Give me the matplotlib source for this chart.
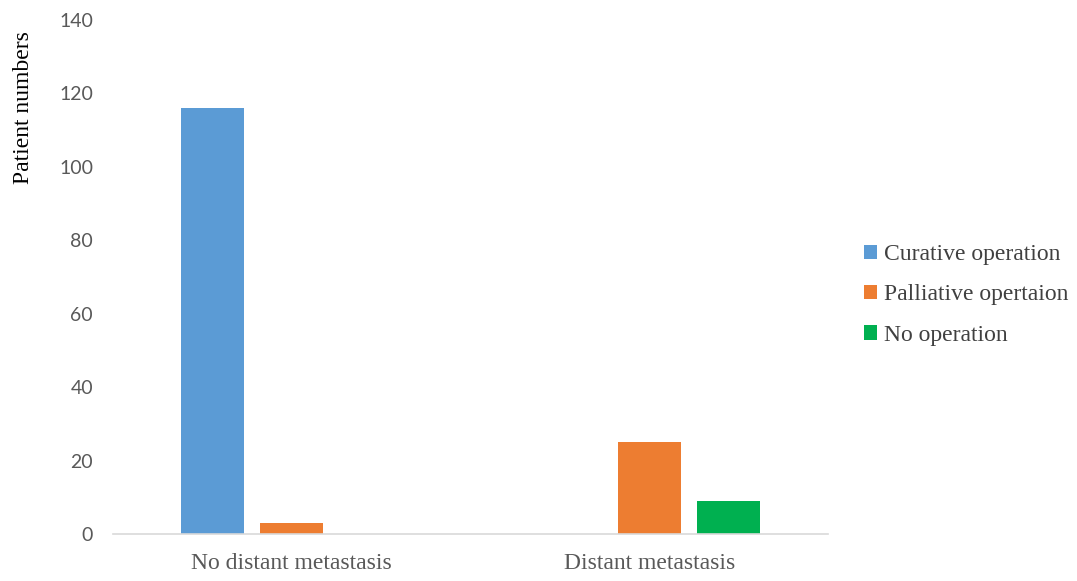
import matplotlib.pyplot as plt
import numpy as np

# donnees
groups = ["No distant metastasis", "Distant metastasis"]
series = ["Curative operation", "Palliative opertaion", "No operation"]
curative = [116, 0]
palliative = [3, 25]
no_operation = [0, 9]
colors = ["#5b9bd5", "#ed7d31", "#00b050"]

fig = plt.figure(figsize=(10.77, 5.81), dpi=100)
ax = fig.add_axes([0.1045, 0.0809, 0.6645, 0.8847])

x = np.arange(len(groups))
w = 0.176
step = 0.22
for i, (vals, lab) in enumerate(zip([curative, palliative, no_operation], series)):
    ax.bar(x + (i - 1) * step, vals, w, color=colors[i], label=lab)

ax.set_xlim(-0.5, 1.5)
ax.set_ylim(0, 140)
ax.set_yticks(range(0, 141, 20))
for s in ["top", "right", "left"]:
    ax.spines[s].set_visible(False)
ax.spines["bottom"].set_color("#d9d9d9")
ax.spines["bottom"].set_linewidth(1.2)
ax.tick_params(axis="both", length=0, colors="#595959")
ax.tick_params(axis="y", pad=14)
ax.tick_params(axis="x", pad=14)
ax.set_xticks(x)
ax.set_xticklabels(groups, family="Liberation Serif", fontsize=17)
for t in ax.get_yticklabels():
    t.set_family("Lato")
    t.set_fontsize(14)

ax.set_ylabel("Patient numbers", family="Liberation Serif", fontsize=17, color="black")
ax.yaxis.set_label_coords(-0.11, 0.83)

leg = ax.legend(loc="center left", bbox_to_anchor=(1.02, 0.465), frameon=False,
                prop={"family": "Liberation Serif", "size": 17},
                handlelength=0.55, handleheight=0.55, handletextpad=0.3, labelspacing=0.82)
for t in leg.get_texts():
    t.set_color("#404040")

fig.savefig("out.png", dpi=100)
